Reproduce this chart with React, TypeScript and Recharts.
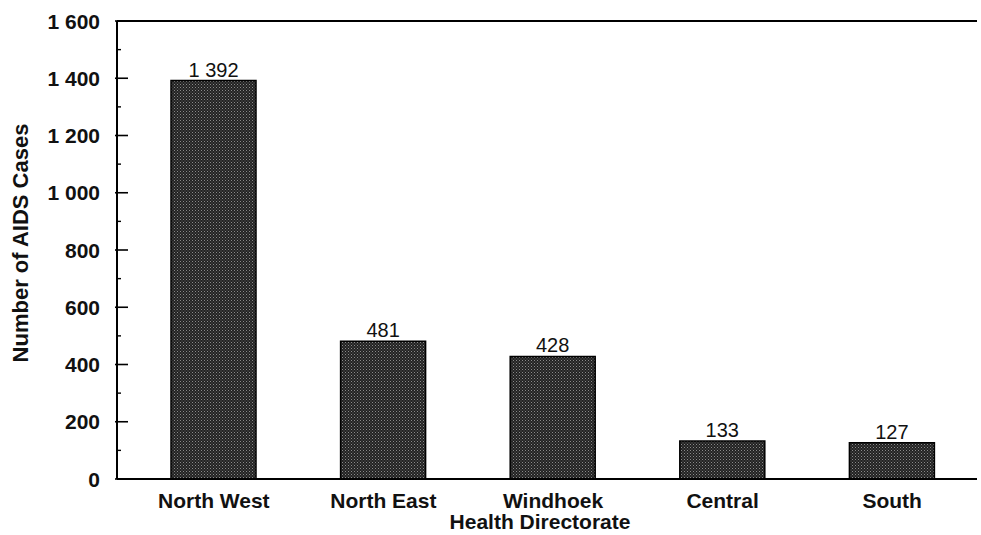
import React from 'react';
import { BarChart, Bar, XAxis, YAxis, ReferenceLine, LabelList } from 'recharts';

const categories = ['North West', 'North East', 'Windhoek', 'Central', 'South'];
const cases = [1392, 481, 428, 133, 127];
const yTicks = [0, 100, 200, 300, 400, 500, 600, 700, 800, 900, 1000, 1100, 1200, 1300, 1400, 1500, 1600];

const data = categories.map((name, i) => ({ name, cases: cases[i] }));

const fmt = (v: number) => {
  const s = String(v);
  return v >= 1000 ? s.slice(0, s.length - 3) + ' ' + s.slice(-3) : s;
};

const FONT = '"Liberation Sans", Arial, Helvetica, sans-serif';

const YTick = (props: any) => {
  const { x, y, payload } = props;
  const axisX = x + 16;
  const major = payload.value % 200 === 0;
  return (
    <g>
      {major ? (
        <>
          <line x1={axisX - 2} x2={axisX + 11} y1={y} y2={y} stroke="#000" strokeWidth={1.6} />
          <text x={x - 1} y={y} dy="0.36em" textAnchor="end" fontSize={21} fontWeight="bold" fontFamily={FONT} fill="#111">
            {fmt(payload.value)}
          </text>
        </>
      ) : (
        <line x1={axisX} x2={axisX + 4} y1={y} y2={y} stroke="#000" strokeWidth={1.4} />
      )}
    </g>
  );
};

const XTick = (props: any) => {
  const { x, y, payload } = props;
  return (
    <text x={x} y={y} dy="0.72em" textAnchor="middle" fontSize={21} fontWeight="bold" fontFamily={FONT} fill="#111">
      {payload.value}
    </text>
  );
};

export default function App() {
  return (
    <div style={{ position: 'absolute', left: 0, top: 0, width: 981, height: 535, background: '#fff' }}>
      <BarChart
        width={981}
        height={535}
        data={data}
        margin={{ top: 21, right: 4, bottom: 0, left: 0 }}
        barSize={85}
      >
        <defs>
          <pattern id="hatch" width="3" height="3" patternUnits="userSpaceOnUse">
            <rect width="3" height="3" fill="#222" />
            <rect x="0" y="0" width="1" height="1" fill="#8a8a8a" />
            <rect x="1.5" y="1.5" width="1" height="1" fill="#6a6a6a" />
          </pattern>
        </defs>
        <XAxis
          dataKey="name"
          height={56}
          tickLine={false}
          tickSize={6}
          tickMargin={8}
          interval={0}
          padding={{ left: 12, right: 0 }}
          axisLine={{ stroke: '#000', strokeWidth: 2 }}
          tick={<XTick />}
          label={{
            content: (p: any) => {
              const vb = p.viewBox || {};
              return (
                <text x={vb.x + vb.width / 2 - 7} y={vb.y + 50} textAnchor="middle" fontSize={21} fontWeight="bold" fontFamily={FONT} fill="#111">
                  Health Directorate
                </text>
              );
            },
          }}
        />
        <YAxis
          width={117}
          domain={[0, 1600]}
          ticks={yTicks}
          interval={0}
          tickLine={false}
          tickSize={6}
          tickMargin={10}
          axisLine={{ stroke: '#000', strokeWidth: 2 }}
          tick={<YTick />}
          label={{
            content: (p: any) => {
              const vb = p.viewBox || {};
              return (
                <text transform={`translate(${vb.x + 28}, ${vb.y + vb.height / 2 - 7}) rotate(-90)`} textAnchor="middle" fontSize={22} fontWeight="bold" fontFamily={FONT} fill="#111">
                  Number of AIDS Cases
                </text>
              );
            },
          }}
        />
        <YAxis
          yAxisId="right"
          orientation="right"
          width={0}
          tick={false}
          tickLine={false}
          axisLine={{ stroke: '#d6d6d6', strokeWidth: 1.5 }}
        />
        <ReferenceLine y={1600} stroke="#000" strokeWidth={2} />
        <Bar dataKey="cases" fill="url(#hatch)" stroke="#000" strokeWidth={1.5} isAnimationActive={false}>
          <LabelList
            dataKey="cases"
            position="top"
            offset={4}
            formatter={(v: any) => fmt(Number(v))}
            style={{ fontSize: 20, fontFamily: FONT, fill: '#111' }}
          />
        </Bar>
      </BarChart>
    </div>
  );
}
